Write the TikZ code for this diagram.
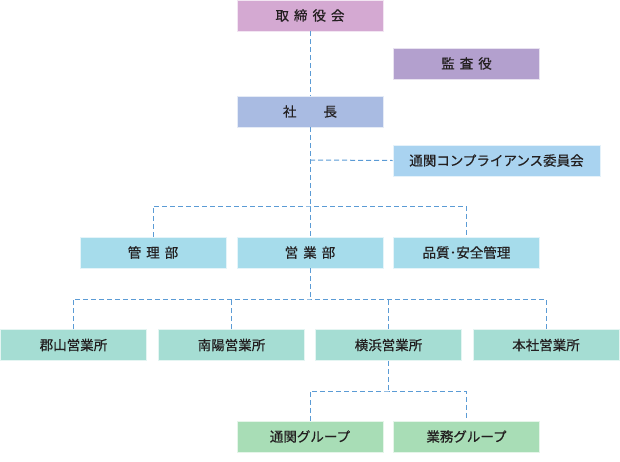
\documentclass[tikz,border=0pt]{standalone}
\usepackage{fontspec}
\setmainfont{Noto Sans CJK JP}[FakeBold=0.6]

\definecolor{boardpink}{HTML}{D4A9D2}
\definecolor{auditpurple}{HTML}{B3A0CE}
\definecolor{presblue}{HTML}{A9BBE2}
\definecolor{compblue}{HTML}{A9D3F0}
\definecolor{deptcyan}{HTML}{A6DCEB}
\definecolor{officemint}{HTML}{A5DDD3}
\definecolor{groupgreen}{HTML}{A8DDB6}
\definecolor{linkblue}{HTML}{5B9BD5}
\definecolor{txtgray}{HTML}{231F20}

\tikzset{
  orgbox/.style={minimum width=146pt,minimum height=31pt,inner sep=0pt,
    text=txtgray,font=\fontsize{13.5}{13.5}\selectfont,draw=white!70!#1,line width=0.6pt,fill=#1},
  link/.style={draw=linkblue,line width=1pt,dash pattern=on 5pt off 3pt}
}
\newcommand{\gapch}{\hspace{5pt}}

\begin{document}
\begin{tikzpicture}[x=1pt,y=-1pt]
\useasboundingbox (0,0) rectangle (620,461); % --- page size

% --- top level
\node[orgbox=boardpink] (board) at (310,15.5) {取\gapch 締\gapch 役\gapch 会};
\node[orgbox=auditpurple] (audit) at (466.5,63.5) {監\gapch 査\gapch 役};
\node[orgbox=presblue] (pres) at (310,111.5) {社\hspace{27pt}長};
\node[orgbox=compblue,minimum width=207pt] (comp) at (496.5,160.5) {通関コンプライアンス委員会};

% --- departments
\node[orgbox=deptcyan] (admin) at (153,252.5) {管\gapch 理\gapch 部};
\node[orgbox=deptcyan] (sales) at (310,252.5) {営\gapch 業\gapch 部};
\node[orgbox=deptcyan] (quality) at (466.5,252.5) {品質･安全管理};

% --- offices
\node[orgbox=officemint] (koriyama) at (73.5,345) {郡山営業所};
\node[orgbox=officemint] (nanyo) at (231.5,345) {南陽営業所};
\node[orgbox=officemint] (yokohama) at (388.5,345) {横浜営業所};
\node[orgbox=officemint] (honsha) at (546,345) {本社営業所};

% --- groups
\node[orgbox=groupgreen] (customs) at (310,436.5) {通関グループ};
\node[orgbox=groupgreen] (business) at (466.5,436.5) {業務グループ};

% --- junctions
\coordinate (jcomp) at (310,160);
\coordinate (jdept) at (310,206);
\coordinate (joff) at (310,299);
\coordinate (jgrp) at (388.5,391);

% --- connectors
\draw[link] (board.south) -- (pres.north);
\draw[link] (pres.south) -- (sales.north);
\draw[link] (jcomp) -- (comp.west);
\draw[link] (admin.north) |- (jdept) -| (quality.north);
\draw[link] (sales.south) -- (joff);
\draw[link] (koriyama.north) |- (joff) -| (honsha.north);
\draw[link] (nanyo.north) -- (nanyo.north |- joff);
\draw[link] (yokohama.north) -- (yokohama.north |- joff);
\draw[link] (yokohama.south) -- (jgrp);
\draw[link] (customs.north) |- (jgrp) -| (business.north);
\end{tikzpicture}
\end{document}
